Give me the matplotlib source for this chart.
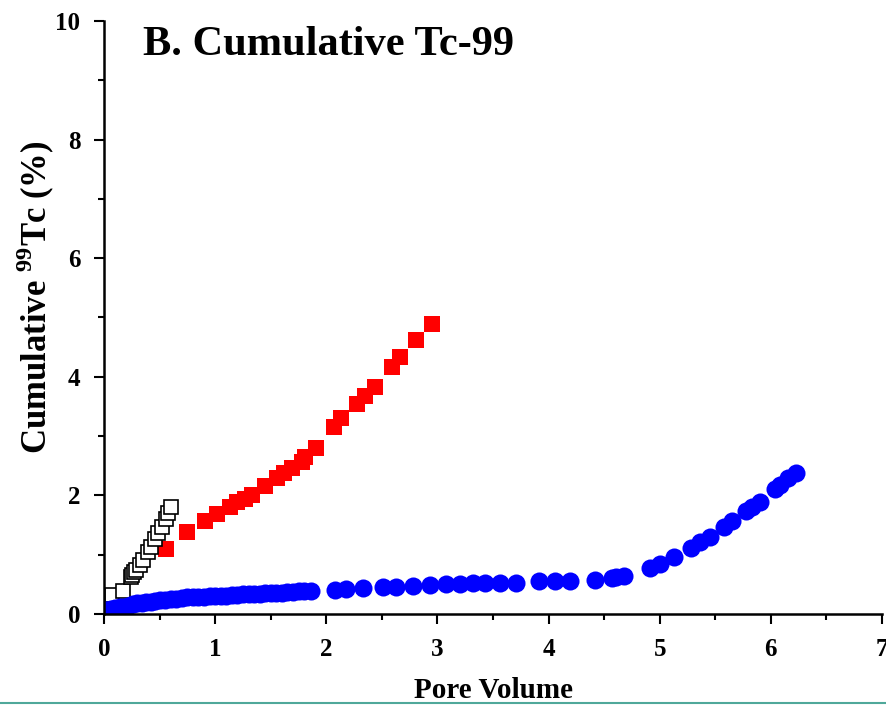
import numpy as np
import matplotlib
matplotlib.use('Agg')
import matplotlib.pyplot as plt
from matplotlib.lines import Line2D

plt.rcParams['font.family'] = ['Liberation Serif', 'DejaVu Serif']
plt.rcParams['font.weight'] = 'bold'
plt.rcParams['mathtext.fontset'] = 'custom'
plt.rcParams['mathtext.rm'] = 'Liberation Serif:bold'
plt.rcParams['mathtext.bf'] = 'Liberation Serif:bold'

# open squares
pv_open = [0.03, 0.07, 0.175, 0.24, 0.25, 0.27, 0.29, 0.32, 0.35,
           0.40, 0.42, 0.46, 0.49, 0.52, 0.555, 0.58, 0.60]
tc_open = [0.22, 0.32, 0.38, 0.62, 0.66, 0.70, 0.74, 0.83, 0.91,
           1.05, 1.13, 1.26, 1.36, 1.47, 1.60, 1.70, 1.80]

# red filled squares
pv_red = [0.555, 0.747, 0.906, 1.016, 1.134, 1.20, 1.266, 1.335, 1.446, 1.557,
          1.623, 1.689, 1.78, 1.81, 1.91, 2.07, 2.13, 2.28, 2.35, 2.44,
          2.59, 2.66, 2.81, 2.95]
tc_red = [1.10, 1.38, 1.57, 1.69, 1.81, 1.89, 1.94, 2.01, 2.15, 2.30,
          2.38, 2.46, 2.57, 2.64, 2.80, 3.16, 3.30, 3.54, 3.68, 3.83,
          4.17, 4.34, 4.62, 4.89]

# blue circles
pv_blue = [0.00, 0.03, 0.06, 0.10, 0.14, 0.18, 0.22, 0.26, 0.30, 0.34, 0.38,
           0.42, 0.46, 0.50, 0.55, 0.60, 0.65, 0.70, 0.75, 0.80, 0.85,
           0.90, 0.95, 1.00, 1.05, 1.10, 1.15, 1.20, 1.25, 1.30, 1.35,
           1.40, 1.45, 1.50, 1.55, 1.60, 1.65, 1.70, 1.75, 1.80, 1.86,
           2.08, 2.18, 2.33, 2.51, 2.63, 2.78, 2.93, 3.08, 3.20, 3.32,
           3.43, 3.56, 3.71, 3.91, 4.06, 4.19, 4.42, 4.57, 4.61, 4.68,
           4.91, 5.00, 5.13, 5.28, 5.36, 5.45, 5.58, 5.65, 5.78, 5.83,
           5.90, 6.04, 6.08, 6.15, 6.23]
tc_blue = [0.06, 0.07, 0.09, 0.10, 0.11, 0.12, 0.14, 0.17, 0.18, 0.19, 0.20,
           0.21, 0.22, 0.23, 0.24, 0.25, 0.26, 0.27, 0.28, 0.28, 0.29,
           0.29, 0.30, 0.30, 0.31, 0.31, 0.32, 0.32, 0.33, 0.33, 0.34,
           0.34, 0.35, 0.35, 0.36, 0.36, 0.37, 0.37, 0.38, 0.38, 0.39,
           0.40, 0.42, 0.43, 0.45, 0.46, 0.47, 0.49, 0.50, 0.51, 0.52,
           0.52, 0.52, 0.53, 0.55, 0.56, 0.56, 0.57, 0.60, 0.62, 0.64,
           0.78, 0.84, 0.96, 1.12, 1.22, 1.30, 1.47, 1.57, 1.74, 1.81,
           1.89, 2.10, 2.18, 2.29, 2.37]

fig = plt.figure(figsize=(8.86, 7.05), dpi=100)
ax = fig.add_axes([0.1174, 0.1291, 0.8781, 0.8411])

ax.plot(pv_red, tc_red, 's', color='#ff0000', markersize=11.5, markeredgewidth=0, zorder=3)
ax.plot(pv_open, tc_open, 's', markerfacecolor='white', markeredgecolor='black',
        markersize=10, markeredgewidth=1.2, zorder=4)
ax.plot(pv_blue, tc_blue, 'o', color='#0000ff', markersize=13, markeredgewidth=0, zorder=5)

ax.set_xlim(0, 7)
ax.set_ylim(0, 10)
ax.set_xticks(range(0, 8))
ax.set_yticks(range(0, 11, 2))
ax.set_xticks(np.arange(0.5, 7, 1), minor=True)
ax.set_yticks(np.arange(1, 10, 2), minor=True)

for s in ['top', 'right']:
    ax.spines[s].set_visible(False)
for s in ['left', 'bottom']:
    ax.spines[s].set_linewidth(1.8)
    ax.spines[s].set_zorder(6)
ax.tick_params(which='major', direction='out', length=7, width=1.5, labelsize=18, pad=10)
ax.tick_params(which='minor', direction='out', length=4, width=1.5)
for lbl in ax.get_xticklabels() + ax.get_yticklabels():
    lbl.set_fontweight('bold')

ax.set_xlabel('Pore Volume', fontsize=21, fontweight='bold')
ax.xaxis.set_label_coords(0.5, -0.106)
ax.set_ylabel('Cumulative $^{99}$Tc (%)', fontsize=25, fontweight='bold')
ax.yaxis.set_label_coords(-0.087, 0.535)
ax.yaxis.label.set_va('center')

ax.text(0.05, 0.943, 'B. Cumulative Tc-99', transform=ax.transAxes,
        fontsize=30.5, fontweight='bold', ha='left', va='baseline')

fig.add_artist(Line2D([0, 1], [0.003, 0.003], transform=fig.transFigure,
                      color='#4fa89a', linewidth=1.5))

fig.savefig('out.png', dpi=100)
